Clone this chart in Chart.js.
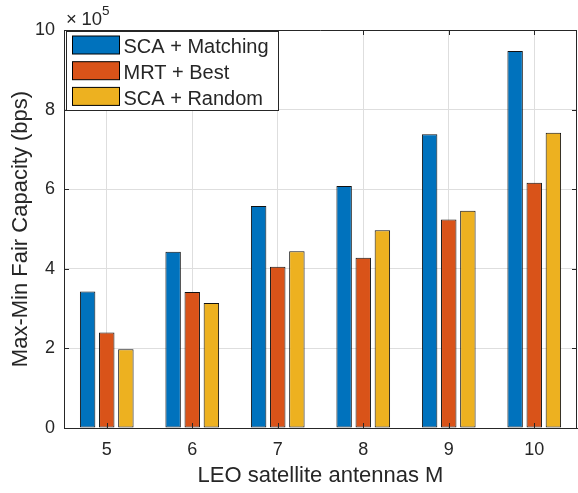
<!DOCTYPE html>
<html>
<head>
<meta charset="utf-8">
<script src="https://cdn.jsdelivr.net/npm/chart.js@4"></script>
<style>
  html, body { margin: 0; padding: 0; background: #ffffff; }
  #wrap { width: 578px; height: 493px; }
</style>
</head>
<body>
<div id="wrap"><canvas id="c" width="578" height="493"></canvas></div>
<script>
// Number of LEO satellite antennas on the x axis
const antennas = ['5', '6', '7', '8', '9', '10'];

// Max-min fair capacity, in units of 10^5 bps
const scaMatching = [3.43, 4.43, 5.58, 6.08, 7.38, 9.47];
const mrtBest     = [2.40, 3.42, 4.05, 4.28, 5.24, 6.16];
const scaRandom   = [1.98, 3.14, 4.44, 4.97, 5.46, 7.42];

const seriesNames = ['SCA + Matching', 'MRT + Best', 'SCA + Random'];
const yTickValues = [0, 2, 4, 6, 8, 10];
const yExponent = '5';

const FONT = '"Liberation Sans", Arial, Helvetica, sans-serif';
const INK = '#262626';
const COLORS = ['#0072BD', '#D95319', '#EDB120'];

// Inward tick marks, full box outline and the exponent label on the y axis
const boxAndTicks = {
  id: 'boxAndTicks',
  afterDraw(chart) {
    const { ctx, chartArea: a, scales: { x, y } } = chart;
    const len = 5;
    ctx.save();
    ctx.strokeStyle = INK;
    ctx.lineWidth = 1;
    ctx.beginPath();
    // top and right edges of the box
    ctx.moveTo(a.left, a.top + 0.5);
    ctx.lineTo(a.right, a.top + 0.5);
    ctx.moveTo(a.right - 0.5, a.top);
    ctx.lineTo(a.right - 0.5, a.bottom);
    x.ticks.forEach((t, i) => {
      const px = Math.round(x.getPixelForTick(i)) + 0.5;
      ctx.moveTo(px, a.bottom);
      ctx.lineTo(px, a.bottom - len);
      ctx.moveTo(px, a.top);
      ctx.lineTo(px, a.top + len);
    });
    y.ticks.forEach(t => {
      const py = Math.round(y.getPixelForValue(t.value)) + 0.5;
      ctx.moveTo(a.left, py);
      ctx.lineTo(a.left + len, py);
      ctx.moveTo(a.right, py);
      ctx.lineTo(a.right - len, py);
    });
    ctx.stroke();

    // exponent label "×10^5"
    ctx.fillStyle = INK;
    ctx.textBaseline = 'alphabetic';
    ctx.textAlign = 'left';
    ctx.font = '18.5px ' + FONT;
    ctx.fillText('\u00D7', a.left + 2, 25);
    ctx.fillText('10', a.left + 17.5, 25);
    ctx.font = '13.5px ' + FONT;
    ctx.fillText(yExponent, a.left + 38, 15);
    ctx.restore();
  }
};

// Boxed legend in the upper-left corner of the plot
const boxLegend = {
  id: 'boxLegend',
  afterDraw(chart) {
    const { ctx, chartArea: a } = chart;
    const bx = a.left + 2.5, by = a.top + 1.5, bw = 212, bh = 79;
    ctx.save();
    ctx.fillStyle = '#ffffff';
    ctx.fillRect(bx, by, bw, bh);
    ctx.strokeStyle = INK;
    ctx.lineWidth = 1;
    ctx.strokeRect(bx, by, bw, bh);
    ctx.font = '20px ' + FONT;
    ctx.textBaseline = 'alphabetic';
    ctx.textAlign = 'left';
    chart.data.datasets.forEach((ds, i) => {
      const top = a.top + 6 + i * 25.7;
      ctx.fillStyle = ds.backgroundColor;
      ctx.fillRect(bx + 6, top, 47, 18);
      ctx.strokeStyle = '#000000';
      ctx.strokeRect(bx + 6, top, 47, 18);
      ctx.fillStyle = INK;
      ctx.fillText(ds.label, bx + 57, top + 17.3);
    });
    ctx.restore();
  }
};

new Chart(document.getElementById('c'), {
  type: 'bar',
  data: {
    labels: antennas,
    datasets: [
      { label: seriesNames[0], data: scaMatching, backgroundColor: COLORS[0] },
      { label: seriesNames[1], data: mrtBest,     backgroundColor: COLORS[1] },
      { label: seriesNames[2], data: scaRandom,   backgroundColor: COLORS[2] }
    ].map(d => Object.assign(d, {
      borderColor: '#111111',
      borderWidth: 1,
      borderSkipped: false,
      categoryPercentage: 0.671,
      barPercentage: 0.807
    }))
  },
  options: {
    responsive: false,
    animation: false,
    devicePixelRatio: 1,
    layout: { padding: { top: 30, right: 1, left: 0, bottom: 0 } },
    plugins: {
      legend: { display: false },
      tooltip: { enabled: false }
    },
    scales: {
      x: {
        grid: { color: '#dedede', lineWidth: 1, offset: false, drawTicks: false },
        border: { color: INK, width: 1, z: 1 },
        ticks: { color: INK, font: { family: FONT, size: 18 }, padding: 11, maxRotation: 0 },
        title: {
          display: true,
          text: 'LEO satellite antennas M',
          color: INK,
          font: { family: FONT, size: 22 },
          padding: { top: 0, bottom: 4 }
        },
        afterFit(scale) { scale.height = 65; }
      },
      y: {
        min: 0,
        max: 10,
        grid: { color: '#dedede', lineWidth: 1, drawTicks: false },
        border: { color: INK, width: 1, z: 1 },
        ticks: { color: INK, font: { family: FONT, size: 18 }, padding: 9 },
        afterBuildTicks(scale) { scale.ticks = yTickValues.map(v => ({ value: v })); },
        title: {
          display: true,
          text: 'Max-Min Fair Capacity (bps)',
          color: INK,
          font: { family: FONT, size: 22 },
          padding: { top: 8, bottom: 0 }
        },
        afterFit(scale) { scale.width = 64; }
      }
    }
  },
  plugins: [boxAndTicks, boxLegend]
});
</script>
</body>
</html>
